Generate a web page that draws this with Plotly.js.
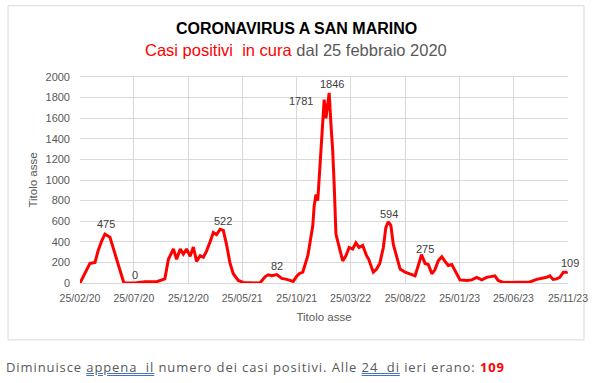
<!DOCTYPE html>
<html>
<head>
<meta charset="utf-8">
<script src="https://cdn.plot.ly/plotly-3.0.1.min.js"></script>
<style>
  html, body { margin: 0; padding: 0; background: #ffffff; }
  #wrap { position: relative; width: 595px; height: 383px; overflow: hidden; }
  #chart { position: absolute; left: 0; top: 0; width: 595px; height: 383px; }
  #note {
    position: absolute; left: 6px; top: 358px; white-space: pre;
    font-family: "Open Sans", "DejaVu Sans", sans-serif; font-size: 13px;
    color: #595959; letter-spacing: 0.9px;
  }
  #note .u { text-decoration: underline double #4472c4; }
  #note .n { color: #ff0000; font-weight: bold; }
</style>
</head>
<body>
<div id="wrap">
  <div id="chart"></div>
  <div id="note">Diminuisce <span class="u">appena  il</span> numero dei casi positivi. Alle <span class="u">24  di</span> ieri erano: <span class="n">109</span></div>
</div>
<script>
// ---- data ----
const dates = [
  "2020-02-25","2020-03-10","2020-03-24","2020-04-07","2020-04-16","2020-04-26","2020-05-05","2020-05-19",
  "2020-06-02","2020-06-11","2020-06-21","2020-06-27","2020-07-28","2020-08-25","2020-09-27","2020-10-11",
  "2020-10-20","2020-10-30","2020-11-13","2020-11-22","2020-12-02","2020-12-11","2020-12-20","2020-12-30",
  "2021-01-08","2021-01-17","2021-01-27","2021-02-05","2021-02-14","2021-02-24","2021-03-05","2021-03-14",
  "2021-03-24","2021-04-02","2021-04-11","2021-04-21","2021-04-30","2021-05-14","2021-05-28","2021-07-14",
  "2021-07-28","2021-08-06","2021-08-16","2021-08-30","2021-09-13","2021-09-27","2021-10-15","2021-10-25",
  "2021-11-01","2021-11-11","2021-11-15","2021-11-25","2021-11-29","2021-12-09","2021-12-13","2021-12-18",
  "2021-12-23","2021-12-27","2022-01-01","2022-01-06","2022-01-10","2022-01-15","2022-01-20","2022-01-24",
  "2022-01-29","2022-02-03","2022-02-07","2022-02-12","2022-02-21","2022-03-03","2022-03-12","2022-03-21",
  "2022-03-31","2022-04-09","2022-04-18","2022-04-28","2022-05-09","2022-05-15","2022-05-23","2022-05-28",
  "2022-06-06","2022-06-15","2022-06-25","2022-07-02","2022-07-09","2022-07-16","2022-07-23","2022-08-01",
  "2022-08-11","2022-08-25","2022-09-08","2022-09-22","2022-10-01","2022-10-10","2022-10-20","2022-10-29",
  "2022-11-08","2022-11-17","2022-11-26","2022-12-06","2022-12-15","2022-12-24","2023-01-03","2023-01-12",
  "2023-01-26","2023-02-14","2023-02-28","2023-03-14","2023-03-28","2023-04-11","2023-04-25","2023-05-04",
  "2023-05-13","2023-05-27","2023-08-10","2023-08-29","2023-09-26","2023-10-05","2023-10-14","2023-10-24",
  "2023-11-02","2023-11-12","2023-11-22","2023-11-24"
];
const positivi = [
  0,90,190,200,315,410,475,445,
  280,190,60,0,0,12,12,25,
  40,230,330,230,330,280,330,260,
  350,210,265,250,310,400,490,470,
  522,510,375,190,90,25,5,0,
  60,80,70,82,45,35,15,65,
  90,105,150,265,345,555,750,860,
  800,1020,1280,1540,1781,1600,1740,1846,
  1540,1280,960,475,350,215,265,345,
  330,390,345,365,265,230,150,105,
  135,190,345,540,594,560,375,250,
  135,105,90,70,170,275,190,180,
  90,130,215,255,210,170,180,120,
  30,25,30,55,30,55,60,70,
  25,5,10,35,55,70,35,40,
  55,105,105,109
];
// labelled points
const labelDates  = ["2020-05-05","2020-07-28","2021-03-24","2021-08-30","2022-01-10","2022-01-24","2022-07-09","2022-10-10","2023-11-24"];
const labelValues = [475, 0, 522, 82, 1781, 1846, 594, 275, 109];
const labelShiftX = [1, 0, 3, 0, -23, 3, 1, 4, 2];
const labelShiftY = [10, 8, 8, 9, -1, 9, 8, 6, 9];
// axis ticks
const tickDates  = ["2020-02-25","2020-07-25","2020-12-25","2021-05-25","2021-10-25","2022-03-25","2022-08-25","2023-01-25","2023-06-25","2023-11-25"];
const tickLabels = ["25/02/20","25/07/20","25/12/20","25/05/21","25/10/21","25/03/22","25/08/22","25/01/23","25/06/23","25/11/23"];
const yTicks = [0,200,400,600,800,1000,1200,1400,1600,1800,2000];

const grid = "#d9d9d9";
const txt = "#595959";
const FONT = "Liberation Sans, Arial, sans-serif";

const trace = {
  x: dates, y: positivi, type: "scatter", mode: "lines",
  line: { color: "#ff0000", width: 3 }, hoverinfo: "skip", cliponaxis: false
};

const annotations = labelDates.map((d, i) => ({
  x: d, y: labelValues[i], xref: "x", yref: "y", text: String(labelValues[i]),
  showarrow: false, xshift: labelShiftX[i], yshift: labelShiftY[i],
  font: { family: FONT, size: 11, color: "#404040" }, yanchor: "middle"
}));

annotations.push({
  xref: "paper", yref: "paper", x: 0.4434, y: 1.2373, xanchor: "center", yanchor: "middle",
  showarrow: false, text: "<b>CORONAVIRUS A SAN MARINO</b>",
  font: { family: FONT, size: 16, color: "#000000" }
});
annotations.push({
  xref: "paper", yref: "paper", x: 0.443, y: 1.1308, xanchor: "center", yanchor: "middle",
  showarrow: false, text: "<span style='color:#ff0000'>Casi positivi\u00a0 in cura</span> dal 25 febbraio 2020",
  font: { family: FONT, size: 16.5, color: txt }
});

const layout = {
  width: 595, height: 383,
  margin: { l: 80, r: 27, t: 77, b: 100, pad: 0 },
  paper_bgcolor: "#ffffff", plot_bgcolor: "#ffffff",
  showlegend: false,
  xaxis: {
    type: "date", range: ["2020-02-25", "2023-11-25"],
    tickmode: "array", tickvals: tickDates, ticktext: tickLabels,
    showgrid: true, gridcolor: grid, gridwidth: 1,
    showline: true, linecolor: grid, linewidth: 1, mirror: true,
    zeroline: false, ticks: "", ticklabelstandoff: 5,
    tickfont: { family: FONT, size: 10.5, color: txt },
    title: { text: "Titolo asse", font: { family: FONT, size: 11.5, color: txt }, standoff: 10 }
  },
  yaxis: {
    range: [0, 2000], tickmode: "array", tickvals: yTicks,
    showgrid: true, gridcolor: grid, gridwidth: 1,
    showline: false, zeroline: false, ticks: "", ticklabelstandoff: 9,
    tickfont: { family: FONT, size: 11, color: txt },
    title: { text: "Titolo asse", font: { family: FONT, size: 11.5, color: txt }, standoff: 5 }
  },
  shapes: [{
    type: "rect", xref: "paper", yref: "paper",
    x0: -0.1475, x1: 1.0328, y0: -0.276, y1: 1.346,
    line: { color: grid, width: 1 }, fillcolor: "rgba(0,0,0,0)", layer: "below"
  }],
  annotations: annotations
};

Plotly.newPlot("chart", [trace], layout, { displayModeBar: false, staticPlot: true });
</script>
</body>
</html>
